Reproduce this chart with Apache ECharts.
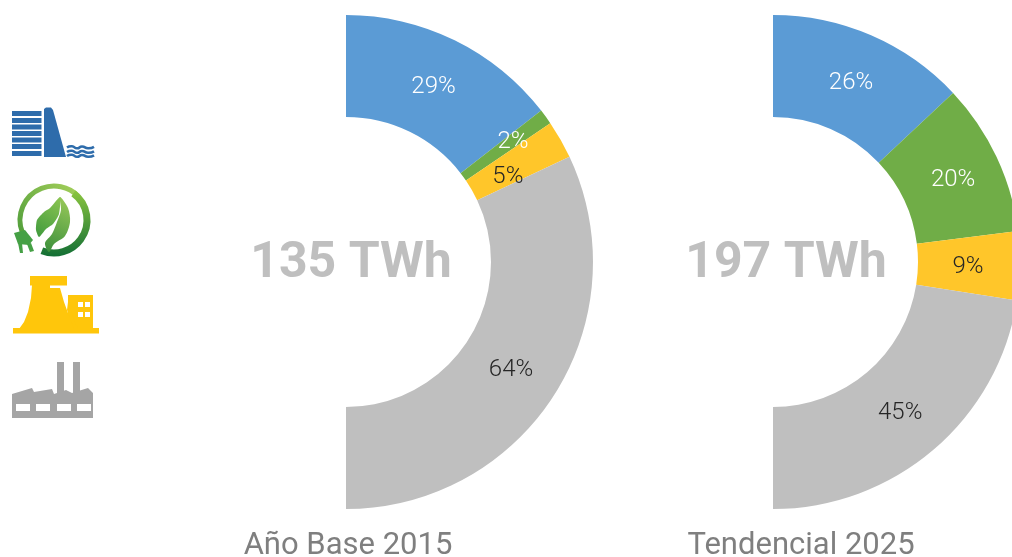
<!DOCTYPE html>
<html><head><meta charset="utf-8">
<style>html,body{margin:0;padding:0;background:#fff;overflow:hidden}#c{width:1012px;height:557px}</style>
<script src="https://cdn.jsdelivr.net/npm/echarts@6/dist/echarts.min.js"></script>
</head><body><div id="c"></div>
<script>
const categories = ['Hidro', 'Renovable', 'Nuclear', 'Térmica'];
const colors = ['#5b9bd5', '#70ad47', '#ffc62a', '#bfbfbf'];
const labelColors = ['#ffffff', '#ffffff', '#262626', '#262626'];
const valuesBase = [29, 2, 5, 64];
const valuesTend = [26, 20, 9, 45];
const totals = ['135 TWh', '197 TWh'];
const captions = ['Año Base 2015', 'Tendencial 2025'];
const offsetsBase = [[0, 4], [6, -3], [-11, 14], [-3, 1]];
const offsetsTend = [[-1, 4], [0, 3], [-4, 2], [-2, 0]];

function pie(values, cx, offsets) {
  return {
    type: 'pie', center: [cx, 262], radius: [145, 247], startAngle: 90, endAngle: -90,
    silent: true, animation: false, avoidLabelOverlap: false, labelLine: { show: false },
    data: values.map((v, i) => ({
      name: categories[i], value: v,
      itemStyle: { color: colors[i] },
      label: {
        show: true, position: 'inside', formatter: v + '%',
        color: labelColors[i], fontFamily: 'Roboto', fontSize: 24, fontWeight: 300,
        offset: offsets[i]
      }
    }))
  };
}
const txt = (x, y, s, size, weight, fill) => ({
  type: 'text', x, y, silent: true,
  style: { text: s, fontFamily: 'Roboto', fontSize: size, fontWeight: weight, fill, align: 'center', verticalAlign: 'middle' }
});
const rect = (x, y, w, h, fill) => ({ type: 'rect', shape: { x, y, width: w, height: h }, style: { fill }, silent: true });
const poly = (points, fill, smooth) => ({ type: 'polygon', shape: { points, smooth: smooth || 0 }, style: { fill }, silent: true });
const lin = (a, b, x0, y0, x1, y1) => new echarts.graphic.LinearGradient(x0, y0, x1, y1, [{ offset: 0, color: a }, { offset: 1, color: b }]);

const blue = '#2e6cab', yel = '#ffc60b', gr = '#a5a5a5';
const icons = [];
// central hydro icon
[111, 118, 124.5, 131, 137.5, 144, 151].forEach(y => icons.push(rect(12, y, 29.5, 5, blue)));
icons.push(poly([[44, 109], [46, 107.5], [51, 107.5], [53, 110], [66, 157], [44, 157]], blue));
[147.5, 152, 156].forEach(y => icons.push({
  type: 'polyline', silent: true,
  shape: { smooth: 0.6, points: [[67, y], [72, y - 1.2], [77, y + .8], [82, y - 1], [88, y + .8], [94, y - .6]] },
  style: { stroke: blue, lineWidth: 2.6, fill: null }
}));
// renewable icon
icons.push({ type: 'arc', silent: true, shape: { cx: 54, cy: 220, r: 34, startAngle: Math.PI * 0.88, endAngle: Math.PI * 1.75, clockwise: true },
  style: { stroke: lin('#4f9d3a', '#a9d25c', 0, 1, 1, 0), lineWidth: 5, fill: null } });
icons.push({ type: 'arc', silent: true, shape: { cx: 54, cy: 220, r: 33, startAngle: Math.PI * 1.7, endAngle: Math.PI * 0.62, clockwise: true },
  style: { stroke: lin('#8cc63f', '#136f35', 0, 0, 0, 1), lineWidth: 7, fill: null } });
icons.push(poly([[60, 197], [68, 208], [70, 222], [65, 236], [54, 244], [49, 252], [45, 243], [52, 234], [57, 222], [61, 210]], lin('#9ccb5a', '#3b8f3c', 1, 0, 0, 1), 0.3));
icons.push(poly([[60, 197], [50, 208], [44, 212], [37, 220], [36, 230], [39, 237], [46, 229], [53, 224], [59, 214]], lin('#8cc552', '#3f9a3d', 1, 0, 0, 1), 0.2));
icons.push(poly([[14, 233], [25, 230], [33, 240], [29, 245], [18, 244]], '#45a045'));
icons.push(poly([[18, 243], [22, 243], [23, 253], [20, 253]], '#45a045'));
icons.push(poly([[27, 244], [31, 243], [34, 251], [30, 252]], '#45a045'));
// nuclear icon
icons.push(rect(30, 276, 37, 9.5, yel));
icons.push(poly([[32, 285], [50, 285], [50, 288], [60, 288], [64, 302], [68, 313], [73, 322], [79, 329], [19, 329], [24, 322], [28, 312], [31, 298]], yel));
icons.push(rect(13, 328, 86, 5.5, yel));
icons.push(rect(68, 295, 25, 33, yel));
icons.push(poly([[68, 302], [75, 322], [78, 329], [74, 329], [67, 310]], yel));
[[78, 302], [85, 302], [78, 312], [85, 312]].forEach(p => icons.push(rect(p[0], p[1], 5, 5, '#ffffff')));
// thermal icon
icons.push(rect(57, 362, 7, 34, gr));
icons.push(rect(73, 362, 7, 34, gr));
icons.push(poly([[12, 394], [32, 388], [34, 392], [52, 389], [54, 394], [66, 390], [72, 393], [88, 388], [93, 393], [93, 418], [12, 418]], gr));
[16, 36, 57, 77].forEach(x => icons.push(rect(x, 404, 14, 7, '#ffffff')));

const chart = echarts.init(document.getElementById('c'), null, { renderer: 'canvas' });
chart.setOption({
  animation: false,
  series: [pie(valuesBase, 346, offsetsBase), pie(valuesTend, 773, offsetsTend)],
  graphic: { elements: [
    ...icons,
    txt(351, 264, totals[0], 50, 700, '#bfbfbf'),
    txt(786, 264, totals[1], 50, 700, '#bfbfbf'),
    txt(348, 546, captions[0], 31, 400, '#7f7f7f'),
    txt(801, 546, captions[1], 31, 400, '#7f7f7f')
  ] }
});
</script></body></html>
